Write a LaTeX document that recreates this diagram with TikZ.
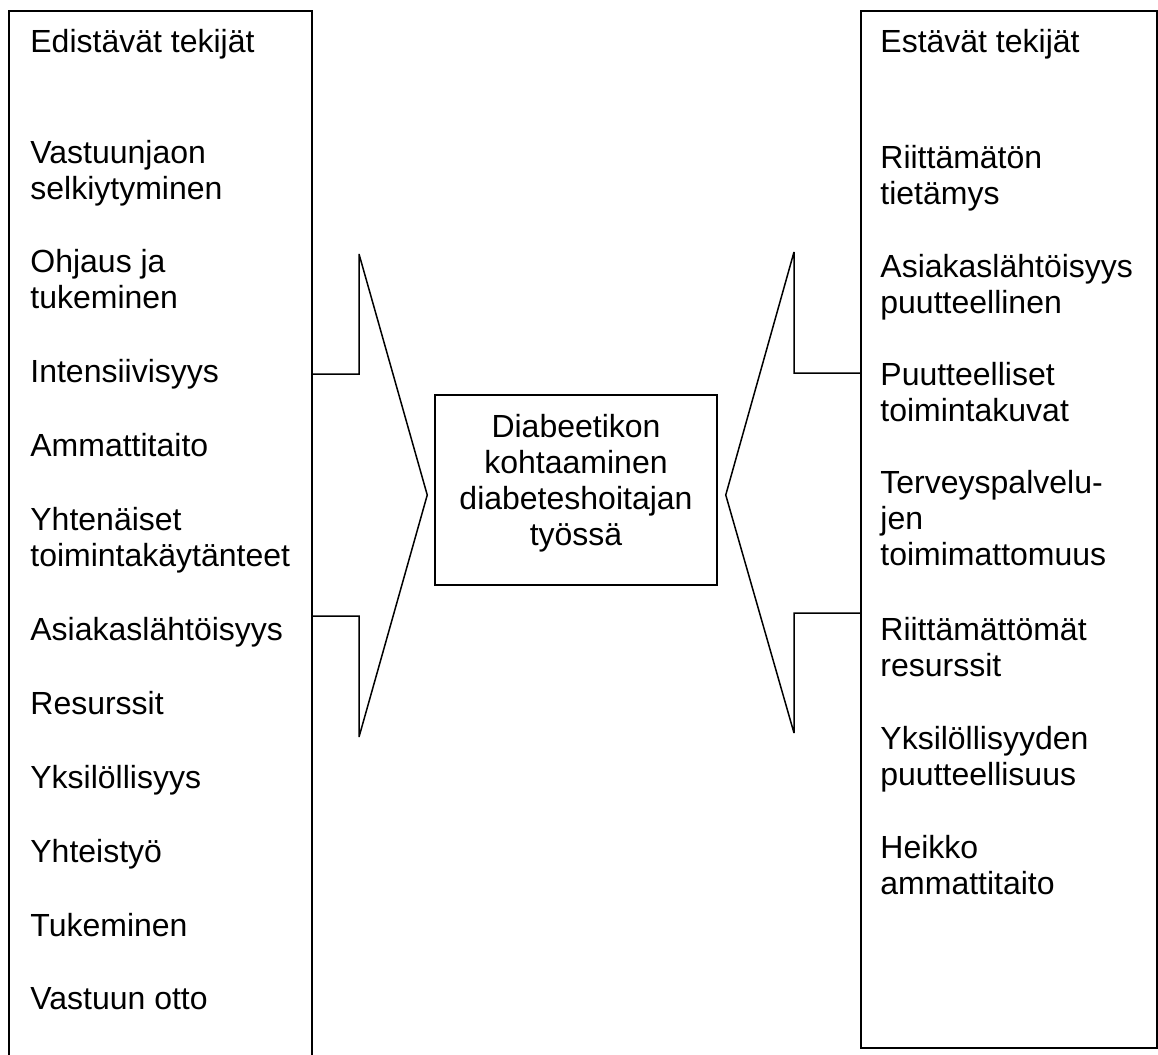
\documentclass[tikz,border=0pt]{standalone}
\usepackage{fontspec}
\setmainfont{Liberation Sans}
\usetikzlibrary{positioning}
\tikzset{column/.style={draw, line width=0.8pt, inner sep=0pt}}
\tikzset{item/.style={anchor=north west, inner sep=0pt, align=left, font=\fontsize{16}{18}\selectfont}}
\tikzset{goalbox/.style={draw, line width=0.75pt, minimum width=141pt, minimum height=95pt, inner sep=0pt}}
\tikzset{goaltext/.style={inner sep=0pt, align=center, font=\fontsize{16}{18}\selectfont}}
\tikzset{funnel/.style={draw, line width=0.75pt, line join=miter, miter limit=2}}

\begin{document}
\begin{tikzpicture}[x=0.5pt, y=-0.5pt]
			\useasboundingbox (0,0) rectangle (1158,1055);

			% the two columns and the middle box
			\node[column, minimum width=151.5pt, minimum height=532pt] (enablers) at (160.5,543) {};
			\node[column, line width=1pt, minimum width=148pt, minimum height=518.5pt] (barriers) at (1009,529.5) {};
			\node[goalbox] (goal) at (576,490) {};
			\node[goaltext] (goalText) at ([yshift=3.5pt]goal.center) {Diabeetikon\\kohtaaminen\\diabeteshoitajan\\työssä};

			% left column
			\node[item] (eHead) at (30,29) {Edistävät tekijät};
			\node[item] (e1) at (30,140) {Vastuunjaon\\selkiytyminen};
			\node[item] (e2) at (30,249) {Ohjaus ja\\tukeminen};
			\node[item] (e3) at (30,359) {Intensiivisyys};
			\node[item] (e4) at (30,433) {Ammattitaito};
			\node[item] (e5) at (30,507) {Yhtenäiset\\toimintakäytänteet};
			\node[item] (e6) at (30,617) {Asiakaslähtöisyys};
			\node[item] (e7) at (30,691) {Resurssit};
			\node[item] (e8) at (30,765) {Yksilöllisyys};
			\node[item] (e9) at (30,839) {Yhteistyö};
			\node[item] (e10) at (30,913) {Tukeminen};
			\node[item] (e11) at (30,987) {Vastuun otto};

			% right column
			\node[item] (bHead) at (880,29) {Estävät tekijät};
			\node[item] (b1) at (880,145) {Riittämätön\\tietämys};
			\node[item] (b2) at (880,254) {Asiakaslähtöisyys\\puutteellinen};
			\node[item] (b3) at (880,362) {Puutteelliset\\toimintakuvat};
			\node[item] (b4) at (880,470) {Terveyspalvelu-\\jen\\toimimattomuus};
			\node[item] (b5) at (880,617) {Riittämättömät\\resurssit};
			\node[item] (b6) at (880,726) {Yksilöllisyyden\\puutteellisuus};
			\node[item] (b7) at (880,835) {Heikko\\ammattitaito};

			% arrows into the middle box
			\coordinate (lTip) at ([xshift=-3.5pt, yshift=-2.5pt]goal.west);
			\coordinate (lHi) at (359,374);
			\coordinate (lTop) at (359,254);
			\coordinate (lBot) at (359,737);
			\coordinate (lLo) at (359,616);
			\draw[funnel] (enablers.east |- lHi) -- (lHi) -- (lTop) -- (lTip) -- (lBot) -- (lLo) -- (enablers.east |- lLo);

			\coordinate (rTip) at ([xshift=4pt, yshift=-2.5pt]goal.east);
			\coordinate (rHi) at (794,373);
			\coordinate (rTop) at (794,252);
			\coordinate (rBot) at (794,733);
			\coordinate (rLo) at (794,613);
			\draw[funnel] (barriers.west |- rHi) -- (rHi) -- (rTop) -- (rTip) -- (rBot) -- (rLo) -- (barriers.west |- rLo);
		\end{tikzpicture}
\end{document}
